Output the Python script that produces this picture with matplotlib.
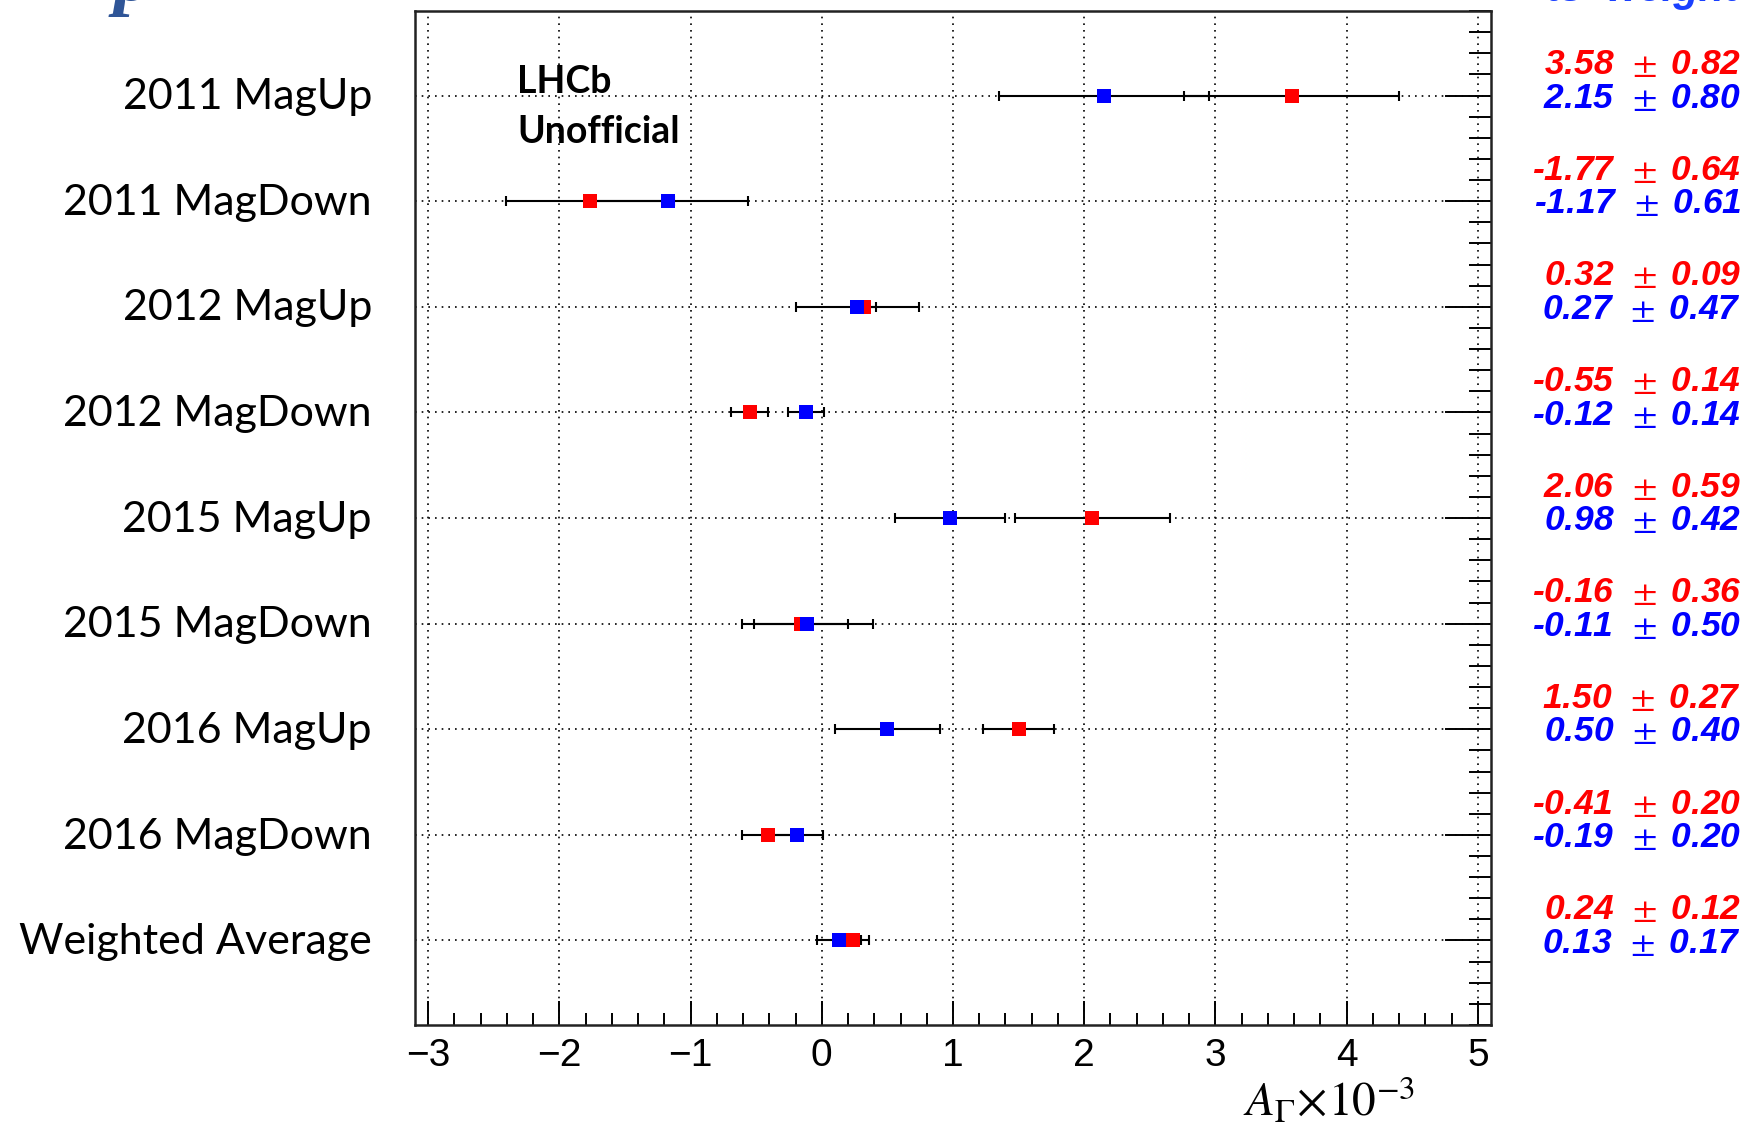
import matplotlib
matplotlib.use("Agg")
import matplotlib.pyplot as plt
from matplotlib.ticker import MultipleLocator
from matplotlib.transforms import blended_transform_factory

# Datos de la figura
rows = ["2011 MagUp", "2011 MagDown", "2012 MagUp", "2012 MagDown", "2015 MagUp",
        "2015 MagDown", "2016 MagUp", "2016 MagDown", "Weighted Average"]
red_vals = [3.58, -1.77, 0.32, -0.55, 2.06, -0.16, 1.50, -0.41, 0.24]
red_errs = [0.82, 0.64, 0.09, 0.14, 0.59, 0.36, 0.27, 0.20, 0.12]
blue_vals = [2.15, -1.17, 0.27, -0.12, 0.98, -0.11, 0.50, -0.19, 0.13]
blue_errs = [0.80, 0.61, 0.47, 0.14, 0.42, 0.50, 0.40, 0.20, 0.17]
x_ticks = [-3, -2, -1, 0, 1, 2, 3, 4, 5]

RED = "#ff0000"
BLUE = "#0000ff"
ypos = list(range(len(rows)))

plt.rcParams["mathtext.fontset"] = "stix"
fig = plt.figure(figsize=(17.5, 11.31), dpi=100)
ax = fig.add_axes([415 / 1750, 106 / 1131, 1076 / 1750, 1014 / 1131])

# Barras de error (negras) debajo de los marcadores
for vals, errs in [(blue_vals, blue_errs), (red_vals, red_errs)]:
    ax.errorbar(vals, ypos, xerr=errs, fmt="none", ecolor="black", elinewidth=1.5,
                capsize=3.6, capthick=1.5, zorder=3)

# Marcadores: azul encima salvo en la media ponderada
for i in ypos:
    red_z = 6 if rows[i] == "Weighted Average" else 4
    ax.plot(red_vals[i], i, "s", color=RED, markersize=10, markeredgewidth=0, zorder=red_z)
    ax.plot(blue_vals[i], i, "s", color=BLUE, markersize=10, markeredgewidth=0, zorder=5)

ax.set_xlim(-3.1, 5.1)
ax.set_ylim(len(rows) - 1 + 0.8, -0.8)
ax.set_xticks(x_ticks)
ax.set_xticklabels([f"{t}".replace("-", "\u2212") for t in x_ticks],
                   fontfamily="Liberation Sans", fontsize=28)
ax.xaxis.set_minor_locator(MultipleLocator(0.2))
ax.set_yticks(ypos)
ax.set_yticklabels([])
ax.yaxis.set_minor_locator(MultipleLocator(0.2))
ax.yaxis.tick_right()

ax.tick_params(axis="x", which="major", direction="in", length=17, width=1.4, pad=9, top=False)
ax.tick_params(axis="x", which="minor", direction="in", length=8.5, width=1.4, top=False)
ax.tick_params(axis="y", which="major", direction="in", length=33, width=1.4,
               left=False, right=True, labelright=False)
ax.tick_params(axis="y", which="minor", direction="in", length=16, width=1.4,
               left=False, right=True)

ax.grid(True, which="major", color="black", linestyle=(0, (1, 3)), linewidth=1.2)
ax.set_axisbelow(True)
for sp in ax.spines.values():
    sp.set_linewidth(1.8)
    sp.set_color("#222222")

# Etiquetas de filas a la izquierda
trans_left = blended_transform_factory(fig.transFigure, ax.transData)
for i, name in enumerate(rows):
    ax.text(372 / 1750, i + 0.13, name, transform=trans_left, ha="right", va="baseline",
            fontfamily="Lato", fontsize=31, clip_on=False)

# Valores a la derecha
val_style = dict(transform=trans_left, ha="right", va="baseline", fontfamily="Liberation Sans",
                 fontweight="bold", fontstyle="italic", fontsize=25.5, clip_on=False)
for i in ypos:
    ax.text(0.995, i - 0.317 + 0.115, f"{red_vals[i]:.2f}  $\\pm\\,$ {red_errs[i]:.2f}",
            color=RED, **val_style)
    ax.text(0.995, i + 0.115, f"{blue_vals[i]:.2f}  $\\pm\\,$ {blue_errs[i]:.2f}",
            color=BLUE, **val_style)

ax.text(0.095, 0.9195, "LHCb", transform=ax.transAxes, fontfamily="Lato",
        fontweight="bold", fontsize=27, va="baseline")
ax.text(0.095, 0.870, "Unofficial", transform=ax.transAxes, fontfamily="Lato",
        fontweight="bold", fontsize=27, va="baseline")

fig.text(1415 / 1750, 14 / 1131, r"$A_{\Gamma}\!\times\!10^{-3}$", ha="right", va="baseline",
         fontsize=34)

# Restos del título de la diapositiva (cortados arriba)
fig.text(114 / 1750, 1.0, "p", ha="left", va="baseline", color="#2f5597",
         fontfamily="Liberation Serif", fontweight="bold", fontstyle="italic", fontsize=56)
fig.text(1738 / 1750, 1 - 1 / 1131, "ts  weight", ha="right", va="baseline", color="#1a40ff",
         fontfamily="Liberation Sans", fontweight="bold", fontstyle="italic", fontsize=30)

fig.savefig("out.png", dpi=100)
